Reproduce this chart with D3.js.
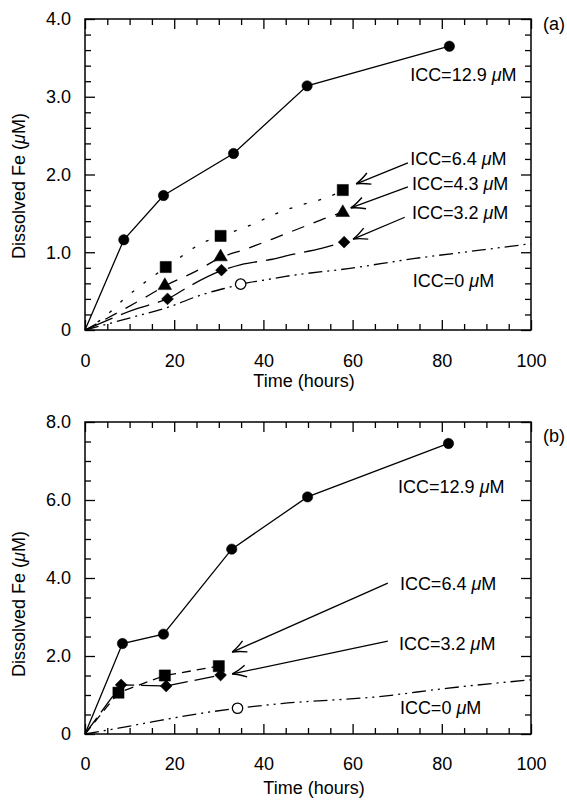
<!DOCTYPE html>
<html>
<head>
<meta charset="utf-8">
<script src="https://cdn.jsdelivr.net/npm/d3@7"></script>
<style>
  body { margin: 0; background: #fff; }
  svg { display: block; }
</style>
</head>
<body>
<svg id="chart" width="567" height="802"></svg>
<script>

// Data

var timeTicks = [0, 20, 40, 60, 80, 100];

// panel (a) measured points
var aTime129 = [0, 8.7, 17.6, 33.3, 49.8, 81.7],
    aFe129   = [0, 1.16, 1.73, 2.27, 3.14, 3.65];
var aTime64 = [18.1, 30.4, 57.8],
    aFe64   = [0.81, 1.21, 1.80];
var aTime43 = [17.9, 30.4, 57.8],
    aFe43   = [0.57, 0.94, 1.51];
var aTime32 = [18.5, 30.6, 58.1],
    aFe32   = [0.40, 0.77, 1.13];
var aTime0 = [34.9],
    aFe0   = [0.59];

// panel (a) fitted curves
var aFitTime64 = [0, 4, 9, 15, 20, 26, 32, 38, 43, 48, 53, 57.5],
    aFitFe64   = [0, 0.15, 0.41, 0.68, 0.88, 1.11, 1.24, 1.37, 1.50, 1.60, 1.68, 1.78];
var aFitTime43 = [0, 13.5, 18, 24.7, 30.4, 36, 42, 46, 50, 55, 57.5],
    aFitFe43   = [0, 0.42, 0.57, 0.75, 0.93, 1.04, 1.17, 1.26, 1.35, 1.46, 1.51];
var aFitTime32 = [0, 12, 16, 18.5, 23, 30, 35, 42, 46, 53, 57.5],
    aFitFe32   = [0, 0.28, 0.35, 0.40, 0.55, 0.75, 0.84, 0.91, 0.965, 1.05, 1.12];
var aFitTime0 = [0, 11, 19, 26, 33, 35, 40, 45, 59, 74, 89, 100],
    aFitFe0   = [0, 0.17, 0.30, 0.45, 0.56, 0.59, 0.64, 0.69, 0.79, 0.92, 1.03, 1.11];

// panel (b) measured points
var bTime129 = [0, 8.4, 17.6, 32.9, 49.9, 81.5],
    bFe129   = [0, 2.32, 2.56, 4.74, 6.08, 7.45];
var bTime64 = [7.5, 17.9, 30.0],
    bFe64   = [1.06, 1.50, 1.74];
var bTime32 = [8.1, 18.2, 30.4],
    bFe32   = [1.26, 1.23, 1.51];
var bTime0 = [34.2],
    bFe0   = [0.66];

// panel (b) fitted curve for ICC=0
var bFitTime0 = [0, 7.5, 15, 26, 34.2, 44, 66, 81, 100],
    bFitFe0   = [0, 0.15, 0.31, 0.53, 0.66, 0.78, 0.96, 1.17, 1.39];

var labelsA = ["12.9", "6.4", "4.3", "3.2", "0"];
var labelsB = ["12.9", "6.4", "3.2", "0"];

// helpers

function zip(ts, vs) { return ts.map(function(t, i) { return [t, vs[i]]; }); }

var svg = d3.select("#chart");
var font = "'Liberation Sans', Arial, Helvetica, sans-serif";

var defs = svg.append("defs");
defs.append("marker")
    .attr("id", "arrow")
    .attr("viewBox", "-16 -8 18 16")
    .attr("refX", 0).attr("refY", 0)
    .attr("markerWidth", 18).attr("markerHeight", 16)
    .attr("markerUnits", "userSpaceOnUse")
    .attr("orient", "auto")
  .append("path")
    .attr("d", "M-14,-6 Q-6,-1.5 0,0 Q-6,1.5 -14,6")
    .attr("fill", "none")
    .attr("stroke", "#000")
    .attr("stroke-width", 1.4);

var sym = {
  circle:   d3.symbol(d3.symbolCircle, 85)(),
  square:   d3.symbol(d3.symbolSquare, 125)(),
  triangle: d3.symbol(d3.symbolTriangle, 80)(),
  diamond:  d3.symbol(d3.symbolSquare, 70)()
};

function drawPanel(p) {
  var g = svg.append("g").attr("transform", "translate(" + p.left + "," + p.top + ")");
  var w = p.right - p.left, h = p.bottom - p.top;

  var x = d3.scaleLinear().domain([0, 100]).range([0, w]);
  var y = d3.scaleLinear().domain([0, p.ymax]).range([h, 0]);

  var xMinor = d3.range(0, 101, 5).filter(function(d) { return d % 20 !== 0; });
  var yMinor = d3.range(0, p.ymax + 1e-6, p.yMinorStep).filter(function(d) {
    return Math.abs(d / p.yMajorStep - Math.round(d / p.yMajorStep)) > 1e-6;
  });
  var yMajor = d3.range(0, p.ymax + 1e-6, p.yMajorStep);
  var fmt = function(d) { return d === 0 ? "0" : d.toFixed(1); };

  // major ticks with labels
  g.append("g").attr("transform", "translate(0," + h + ")")
    .call(d3.axisBottom(x).tickValues(timeTicks).tickSizeInner(-10).tickSizeOuter(0).tickPadding(p.xPad));
  g.append("g")
    .call(d3.axisLeft(y).tickValues(yMajor).tickFormat(fmt).tickSizeInner(-10).tickSizeOuter(0).tickPadding(14));
  g.append("g")
    .call(d3.axisTop(x).tickValues(timeTicks).tickFormat("").tickSizeInner(-10).tickSizeOuter(0));
  g.append("g").attr("transform", "translate(" + w + ",0)")
    .call(d3.axisRight(y).tickValues(yMajor).tickFormat("").tickSizeInner(-10).tickSizeOuter(0));

  // minor ticks
  g.append("g").attr("transform", "translate(0," + h + ")")
    .call(d3.axisBottom(x).tickValues(xMinor).tickFormat("").tickSizeInner(-6).tickSizeOuter(0));
  g.append("g")
    .call(d3.axisTop(x).tickValues(xMinor).tickFormat("").tickSizeInner(-6).tickSizeOuter(0));
  g.append("g")
    .call(d3.axisLeft(y).tickValues(yMinor).tickFormat("").tickSizeInner(-6).tickSizeOuter(0));
  g.append("g").attr("transform", "translate(" + w + ",0)")
    .call(d3.axisRight(y).tickValues(yMinor).tickFormat("").tickSizeInner(-6).tickSizeOuter(0));

  g.selectAll(".domain").remove();
  g.selectAll(".tick line").attr("stroke", "#000").attr("stroke-width", 1.3);
  g.selectAll(".tick text").attr("font-family", font).attr("font-size", 18).attr("fill", "#000");

  g.append("rect")
    .attr("width", w).attr("height", h)
    .attr("fill", "none").attr("stroke", "#000").attr("stroke-width", 1.5);

  // lines
  var straight = d3.line().x(function(d) { return x(d[0]); }).y(function(d) { return y(d[1]); });
  var smooth = d3.line().curve(d3.curveMonotoneX).x(function(d) { return x(d[0]); }).y(function(d) { return y(d[1]); });

  p.lines.forEach(function(l) {
    g.append("path")
      .attr("d", (l.smooth ? smooth : straight)(l.data))
      .attr("fill", "none")
      .attr("stroke", "#000")
      .attr("stroke-width", 1.3)
      .attr("stroke-dasharray", l.dash || null);
  });

  // markers
  p.points.forEach(function(s) {
    g.selectAll(null).data(s.data).enter().append("path")
      .attr("d", sym[s.shape])
      .attr("transform", function(d) {
        return "translate(" + x(d[0]) + "," + y(d[1]) + ")" + (s.shape === "diamond" ? " rotate(45)" : "");
      })
      .attr("fill", s.open ? "#fff" : "#000")
      .attr("stroke", "#000")
      .attr("stroke-width", s.open ? 1.3 : 0.5);
  });

  // arrows
  p.arrows.forEach(function(a) {
    g.append("line")
      .attr("x1", x(a[0][0])).attr("y1", y(a[0][1]))
      .attr("x2", x(a[1][0])).attr("y2", y(a[1][1]))
      .attr("stroke", "#000").attr("stroke-width", 1.3)
      .attr("marker-end", "url(#arrow)");
  });

  // labels
  p.labels.forEach(function(l) {
    var t = g.append("text")
      .attr("x", x(l.at[0])).attr("y", y(l.at[1]))
      .attr("font-family", font).attr("font-size", 18);
    t.append("tspan").text("ICC=" + l.text + " ");
    t.append("tspan").attr("font-style", "italic").text("\u03bc");
    t.append("tspan").text("M");
  });

  // axis titles
  g.append("text")
    .attr("x", p.xTitle[0]).attr("y", h + p.xTitle[1])
    .attr("text-anchor", "middle")
    .attr("font-family", font).attr("font-size", 18)
    .text("Time (hours)");

  var yt = g.append("text")
    .attr("transform", "translate(" + (25 - p.left) + "," + p.yTitleY + ") rotate(-90)")
    .attr("text-anchor", "middle")
    .attr("font-family", font).attr("font-size", 18);
  yt.append("tspan").text("Dissolved Fe (");
  yt.append("tspan").attr("font-style", "italic").text("\u03bc");
  yt.append("tspan").text("M)");

  g.append("text")
    .attr("x", w + 12).attr("y", p.tagY)
    .attr("font-family", font).attr("font-size", 18)
    .text(p.tag);
}

drawPanel({
  left: 85, right: 531, top: 19, bottom: 330,
  ymax: 4, yMajorStep: 1, yMinorStep: 0.2,
  xPad: 24, xTitle: [219, 57], yTitleY: 167, tag: "(a)", tagY: 11,
  lines: [
    { data: zip(aTime129, aFe129) },
    { data: zip(aFitTime64, aFitFe64), smooth: true, dash: "3,12" },
    { data: zip(aFitTime43, aFitFe43), smooth: true, dash: "13,10" },
    { data: zip(aFitTime32, aFitFe32), smooth: true, dash: "30,9" },
    { data: zip(aFitTime0, aFitFe0), smooth: true, dash: "14,5,2,5,2,5" }
  ],
  points: [
    { data: zip(aTime129, aFe129).slice(1), shape: "circle" },
    { data: zip(aTime64, aFe64), shape: "square" },
    { data: zip(aTime43, aFe43), shape: "triangle" },
    { data: zip(aTime32, aFe32), shape: "diamond" },
    { data: zip(aTime0, aFe0), shape: "circle", open: true }
  ],
  arrows: [
    [[72.4, 2.15], [60.8, 1.88]],
    [[72.4, 1.84], [59.6, 1.57]],
    [[71.7, 1.45], [60.1, 1.17]]
  ],
  labels: [
    { text: labelsA[0], at: [72.9, 3.20] },
    { text: labelsA[1], at: [72.9, 2.12] },
    { text: labelsA[2], at: [73.3, 1.80] },
    { text: labelsA[3], at: [73.3, 1.43] },
    { text: labelsA[4], at: [73.5, 0.55] }
  ]
});

drawPanel({
  left: 85, right: 531, top: 422, bottom: 734,
  ymax: 8, yMajorStep: 2, yMinorStep: 0.5,
  xPad: 23, xTitle: [229, 60], yTitleY: 182, tag: "(b)", tagY: 20,
  lines: [
    { data: zip(bTime129, bFe129) },
    { data: [[0, 0]].concat(zip(bTime64, bFe64)), dash: "9,6" },
    { data: [[0, 0]].concat(zip(bTime32, bFe32)), dash: "20,7" },
    { data: zip(bFitTime0, bFitFe0), smooth: true, dash: "14,5,2,5,2,5" }
  ],
  points: [
    { data: zip(bTime129, bFe129).slice(1), shape: "circle" },
    { data: zip(bTime32, bFe32), shape: "diamond" },
    { data: zip(bTime64, bFe64), shape: "square" },
    { data: zip(bTime0, bFe0), shape: "circle", open: true }
  ],
  arrows: [
    [[67.9, 3.87], [33.0, 2.10]],
    [[67.9, 2.38], [33.0, 1.54]]
  ],
  labels: [
    { text: labelsB[0], at: [70.2, 6.18] },
    { text: labelsB[1], at: [70.6, 3.69] },
    { text: labelsB[2], at: [70.4, 2.15] },
    { text: labelsB[3], at: [70.6, 0.51] }
  ]
});

</script>
</body>
</html>
